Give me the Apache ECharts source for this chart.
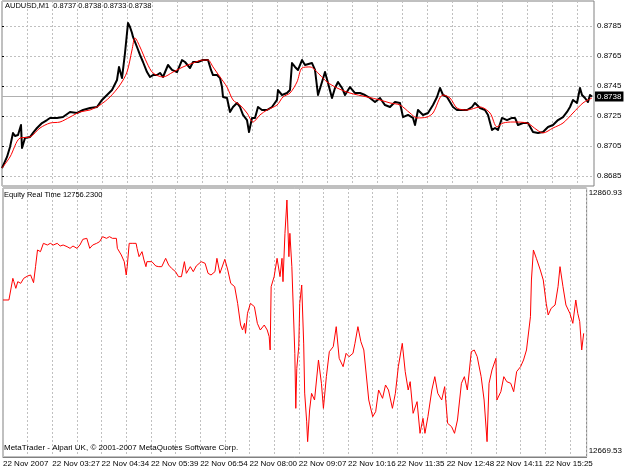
<!DOCTYPE html>
<html>
<head>
<meta charset="utf-8">
<script src="https://cdn.jsdelivr.net/npm/echarts/dist/echarts.min.js"></script>
<style>html,body{margin:0;padding:0;background:#fff;}#c{width:625px;height:469px;}</style>
</head>
<body>
<div id="c"></div>
<script>
// ---- data (x = bar index of the M1 chart) ----
const timeLabels = ['22 Nov 2007','22 Nov 03:27','22 Nov 04:34','22 Nov 05:39','22 Nov 06:54','22 Nov 08:00',
  '22 Nov 09:07','22 Nov 10:16','22 Nov 11:35','22 Nov 12:48','22 Nov 14:11','22 Nov 15:25'];
const priceTicks = [0.8685, 0.8705, 0.8725, 0.8745, 0.8765, 0.8785];
const lastPrice = 0.8738;
const equityMin = 12669.53, equityMax = 12860.93;
const titleText = 'AUDUSD,M1  0.8737 0.8738 0.8733 0.8738';
const equityText = 'Equity Real Time 12756.2300';
const footerText = 'MetaTrader - Alpari UK, \u00a9 2001-2007 MetaQuotes Software Corp.';

const priceClose = [
[0,0.86903],[5,0.86977],[8,0.87043],[11,0.87137],[13,0.87117],[16,0.87123],[19,0.8719],[20,0.87037],[23,0.87103],
[28,0.8711],[31,0.87137],[35,0.8717],[40,0.87203],[45,0.87223],[48,0.87237],[55,0.87237],[61,0.87243],[68,0.87277],
[75,0.8727],[81,0.8729],[88,0.87303],[95,0.8731],[100,0.87357],[105,0.8739],[110,0.87423],[115,0.8749],[117,0.87577],
[120,0.87503],[123,0.8767],[126,0.8787],[128,0.87843],[130,0.87803],[131,0.87777],[135,0.8771],[138,0.87657],[141,0.8761],
[145,0.87543],[148,0.8751],[151,0.87523],[155,0.87523],[158,0.87537],[161,0.8751],[166,0.8759],[170,0.87557],[175,0.87543],
[180,0.87623],[183,0.8761],[188,0.8757],[191,0.8761],[196,0.8761],[201,0.87623],[206,0.87623],[209,0.87557],[211,0.87523],
[215,0.87523],[218,0.87503],[220,0.87443],[221,0.87377],[225,0.8737],[228,0.87277],[231,0.8731],[235,0.87337],[238,0.8731],
[241,0.87257],[245,0.87223],[247,0.87143],[250,0.87237],[253,0.87237],[256,0.8731],[260,0.8729],[265,0.8729],[270,0.8731],
[275,0.87357],[276,0.87423],[280,0.8739],[285,0.87403],[288,0.87423],[290,0.87603],[293,0.87577],[296,0.87557],[300,0.87623],
[303,0.8759],[305,0.8759],[310,0.87603],[313,0.87557],[316,0.8739],[320,0.87477],[323,0.87543],[326,0.8747],[330,0.8737],
[333,0.87437],[336,0.87477],[340,0.87437],[343,0.8739],[348,0.87443],[353,0.87403],[358,0.87403],[363,0.8739],[368,0.8737],
[373,0.87343],[378,0.8737],[383,0.87323],[388,0.8731],[393,0.87343],[398,0.87337],[401,0.87243],[406,0.87257],[411,0.87237],
[413,0.8719],[416,0.8729],[421,0.87257],[426,0.8727],[431,0.87323],[435,0.87377],[438,0.87437],[441,0.8739],[445,0.87377],
[448,0.87343],[451,0.8731],[455,0.8729],[460,0.8729],[465,0.8729],[470,0.8731],[473,0.87337],[478,0.87303],[483,0.8729],
[486,0.87257],[490,0.87157],[493,0.8717],[496,0.87157],[500,0.87237],[505,0.87223],[510,0.87237],[513,0.87237],[516,0.8719],
[521,0.87203],[526,0.87203],[531,0.87143],[536,0.87137],[541,0.87143],[546,0.87177],[551,0.8719],[556,0.87223],[561,0.87243],
[565,0.87277],[568,0.8731],[571,0.87357],[575,0.87337],[578,0.87437],[580,0.8739],[583,0.8737],[586,0.87343],[588,0.8739],[590,0.8738]
];

const priceMA = [
[0,0.86903],[8,0.86977],[18,0.87103],[28,0.8711],[38,0.8717],[48,0.87203],[58,0.8721],[68,0.87243],[78,0.87277],[88,0.8729],
[98,0.87323],[108,0.87377],[118,0.87457],[125,0.87543],[130,0.8769],[133,0.8777],[138,0.8771],[145,0.87603],[151,0.87537],
[161,0.8751],[171,0.87543],[181,0.87577],[191,0.87603],[201,0.87623],[206,0.87623],[211,0.87577],[218,0.8751],[225,0.87443],
[231,0.87357],[238,0.87323],[245,0.8727],[251,0.8721],[258,0.87257],[265,0.8729],[275,0.87323],[281,0.87377],[288,0.87403],
[295,0.87477],[300,0.8757],[308,0.87577],[318,0.87523],[325,0.87477],[335,0.87437],[348,0.87403],[365,0.87377],[378,0.87357],
[388,0.87337],[398,0.87323],[408,0.8727],[415,0.87237],[425,0.87243],[431,0.8727],[441,0.8739],[448,0.8737],[455,0.87303],
[465,0.8729],[478,0.8731],[488,0.8727],[495,0.87177],[501,0.87203],[511,0.8721],[525,0.87203],[535,0.87157],[541,0.87137],
[551,0.8717],[561,0.87203],[571,0.8727],[581,0.87337],[590,0.8737]
];

const equity = [
[0,12781.24],[6,12781.24],[8,12782.43],[10,12796.66],[11,12794.29],[13,12789.54],[15,12794.29],[18,12793.10],[21,12796.66],
[25,12798.32],[28,12799.03],[30,12797.84],[31,12793.58],[33,12804.96],[35,12816.82],[38,12815.63],[41,12821.56],[45,12820.37],
[48,12821.56],[51,12820.37],[55,12821.56],[58,12819.66],[61,12820.37],[65,12819.19],[68,12818.00],[71,12819.66],[75,12818.00],
[78,12820.37],[81,12824.41],[85,12825.12],[88,12818.00],[91,12820.37],[95,12821.56],[98,12822.75],[101,12826.31],[105,12825.12],
[108,12826.31],[111,12825.12],[115,12825.12],[116,12818.00],[120,12813.26],[121,12814.45],[123,12808.52],[125,12799.03],
[126,12804.96],[128,12821.56],[131,12821.56],[135,12821.56],[136,12818.00],[138,12812.07],[141,12815.63],[143,12809.70],
[145,12804.96],[146,12808.52],[148,12808.52],[151,12808.52],[155,12805.43],[158,12804.96],[161,12804.96],[165,12810.89],
[168,12806.15],[171,12803.77],[175,12801.40],[178,12797.84],[181,12797.84],[184,12808.52],[186,12800.21],[190,12804.96],
[193,12801.40],[196,12805.43],[201,12808.52],[205,12807.33],[208,12800.21],[211,12799.03],[215,12801.40],[217,12810.89],
[220,12800.21],[221,12799.03],[225,12810.18],[228,12802.59],[231,12793.10],[235,12790.73],[238,12778.87],[241,12763.45],
[243,12759.89],[245,12764.64],[246,12757.52],[248,12771.76],[251,12778.87],[253,12780.06],[255,12776.50],[258,12764.64],
[261,12759.89],[265,12763.45],[268,12759.89],[270,12755.15],[271,12745.67],[272,12790.73],[275,12797.84],[278,12810.89],
[281,12797.84],[283,12810.89],[284,12794.29],[286,12828.68],[288,12852.39],[290,12812.07],[291,12828.68],[293,12804.96],
[296,12743.30],[297,12704.16],[298,12732.62],[300,12748.04],[301,12778.87],[303,12791.91],[305,12750.00],[306,12715.00],
[308,12695.00],[309,12680.44],[311,12702.97],[313,12714.83],[316,12710.09],[320,12738.55],[323,12721.95],[325,12704.16],
[328,12726.69],[331,12744.48],[335,12748.04],[338,12762.27],[341,12739.74],[345,12733.81],[348,12743.30],[351,12740.92],
[355,12743.30],[357,12750.41],[360,12762.27],[363,12751.60],[366,12745.67],[368,12731.44],[371,12710.09],[375,12698.23],
[378,12701.79],[381,12717.21],[385,12711.28],[388,12720.76],[391,12717.21],[395,12704.16],[398,12714.83],[401,12733.81],
[405,12750.41],[408,12730.25],[411,12717.21],[413,12723.13],[416,12700.61],[420,12708.91],[423,12686.38],[426,12697.05],
[428,12686.38],[431,12698.23],[435,12717.21],[438,12726.69],[441,12714.83],[445,12710.09],[448,12719.58],[451,12693.49],
[455,12691.11],[458,12686.38],[461,12695.86],[465,12721.95],[468,12726.69],[471,12717.21],[475,12744.48],[478,12745.67],
[481,12740.92],[485,12726.69],[488,12710.09],[491,12680.44],[493,12721.95],[496,12731.44],[500,12739.74],[501,12710.09],
[505,12716.02],[508,12726.69],[511,12723.13],[515,12721.95],[518,12716.02],[521,12730.25],[525,12733.81],[528,12738.55],
[531,12745.67],[535,12769.38],[536,12795.47],[538,12816.82],[541,12810.89],[545,12802.59],[548,12795.47],[551,12778.87],
[553,12770.57],[556,12775.31],[560,12777.69],[563,12790.73],[565,12804.96],[568,12790.73],[571,12777.69],[575,12771.76],
[578,12764.64],[581,12781.24],[583,12771.76],[585,12765.83],[587,12745.67],[589,12757.52]
];

const barCount = 592;

// ---- chart ----
const FONT = 'Liberation Sans';
const FS = 8;
const gridLine = {show: true, lineStyle: {color: '#c0c0c0', type: [2, 2], width: 1}};
const chart = echarts.init(document.getElementById('c'), null, {renderer: 'canvas'});
chart.setOption({
  animation: false,
  backgroundColor: '#fff',
  textStyle: {fontFamily: FONT},
  title: [
    {text: titleText, left: 5, top: 2, padding: 0, textStyle: {fontSize: 7.5, fontWeight: 'normal', color: '#000', fontFamily: FONT}},
    {text: equityText, left: 4, top: 191, padding: 0, textStyle: {fontSize: 7.5, fontWeight: 'normal', color: '#000', fontFamily: FONT}},
    {text: footerText, left: 4, top: 444, padding: 0, textStyle: {fontSize: FS, fontWeight: 'normal', color: '#000', fontFamily: FONT}}
  ],
  grid: [
    {left: 2, top: 1, width: 592, height: 185, show: true, borderColor: '#808080', borderWidth: 1, backgroundColor: '#fff'},
    {left: 2, top: 26, width: 592, height: 150, show: false},
    {left: 2, top: 188, width: 592, height: 269, show: true, borderColor: '#808080', borderWidth: 1}
  ],
  xAxis: [
    {gridIndex: 0, type: 'value', min: 0, max: barCount, interval: 25, axisLine: {show: false}, axisTick: {show: false},
     axisLabel: {show: false}, splitLine: gridLine},
    {gridIndex: 1, type: 'value', min: 0, max: barCount, show: false},
    {gridIndex: 2, type: 'value', min: 0, max: barCount, interval: 25,
     axisLine: {show: true, lineStyle: {color: '#808080'}}, axisTick: {show: false},
     splitLine: gridLine,
     axisLabel: {show: true, margin: 3, align: 'left', fontSize: FS, color: '#000', fontFamily: FONT, showMaxLabel: false,
       formatter: function (v) { if (v % 50 !== 0) return ''; const i = v / 50; return timeLabels[i] || ''; }}}
  ],
  yAxis: [
    {gridIndex: 0, type: 'value', min: 0, max: 1, show: false},
    {gridIndex: 1, type: 'value', position: 'right', min: priceTicks[0], max: priceTicks[priceTicks.length - 1], interval: 0.002,
     axisLine: {show: false}, axisTick: {show: true, length: 2, lineStyle: {color: '#000'}},
     splitLine: gridLine,
     axisLabel: {margin: 3, fontSize: FS, color: '#000', fontFamily: FONT, formatter: v => v.toFixed(4)}},
    {gridIndex: 2, type: 'value', position: 'right', min: equityMin, max: equityMax, interval: equityMax - equityMin,
     axisLine: {show: false}, axisTick: {show: false}, splitLine: {show: false},
     axisLabel: {margin: 2, fontSize: FS, color: '#000', fontFamily: FONT,
       formatter: function (v) {
         if (Math.abs(v - equityMax) < 0.01) return '{t|' + equityMax.toFixed(2) + '}';
         if (Math.abs(v - equityMin) < 0.01) return '{b|' + equityMin.toFixed(2) + '}';
         return '';
       },
       rich: {t: {fontSize: FS, padding: [10, 0, 0, 0]}, b: {fontSize: FS, padding: [0, 0, 12, 0]}}}}
  ],
  series: [
    {type: 'line', xAxisIndex: 1, yAxisIndex: 1, data: [[0, lastPrice], [barCount, lastPrice]], symbol: 'none', clip: false,
     lineStyle: {color: '#b0b0b0', width: 1}, z: 2, silent: true,
     endLabel: {show: true, distance: 1, formatter: lastPrice.toFixed(4), backgroundColor: '#000', color: '#fff',
       fontSize: FS, fontFamily: FONT, padding: [1, 2, 1, 2]}},
    {type: 'line', xAxisIndex: 1, yAxisIndex: 1, data: priceClose, symbol: 'none', clip: false,
     lineStyle: {color: '#000', width: 2, join: 'round'}, z: 3},
    {type: 'line', xAxisIndex: 1, yAxisIndex: 1, data: priceMA, symbol: 'none', clip: false, smooth: 0.3,
     lineStyle: {color: '#ff0000', width: 1}, z: 4},
    {type: 'line', xAxisIndex: 2, yAxisIndex: 2, data: equity, symbol: 'none',
     lineStyle: {color: '#ff0000', width: 1}, z: 3}
  ]
});
</script>
</body>
</html>
